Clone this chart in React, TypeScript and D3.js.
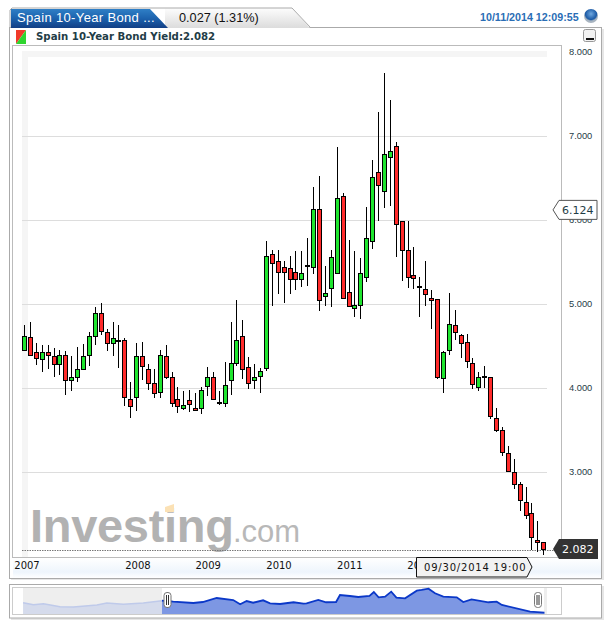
import React, { useEffect, useRef } from "react";
import * as d3 from "d3";

// Monthly candles (percent yield)
const opens = [4.45,4.61,4.43,4.35,4.43,4.39,4.29,4.40,4.10,4.14,4.23,4.39,4.63,4.90,4.67,4.54,4.58,4.58,3.87,3.89,4.38,4.23,4.06,3.96,4.39,4.14,3.87,3.76,3.86,3.77,3.76,4.02,4.13,3.835,3.82,4.10,4.30,4.62,4.25,4.10,4.15,4.25,5.60,5.51,5.45,5.43,5.38,5.30,5.465,5.45,6.14,5.10,5.19,5.38,6.29,5.15,4.96,4.99,5.33,5.76,6.57,6.35,6.76,6.89,5.99,5.65,5.35,5.22,5.18,5.08,5.06,4.12,4.45,4.75,4.63,4.55,4.30,4.01,4.145,4.14,3.65,3.50,3.23,3.00,2.86,2.65,2.52,2.19,2.17];
const highs = [4.75,4.79,4.54,4.51,4.52,4.48,4.46,4.44,4.38,4.49,4.53,4.67,4.97,5.01,4.71,4.79,4.75,4.60,4.08,4.54,4.55,4.29,4.23,4.46,4.52,4.20,4.01,3.97,3.98,3.94,4.01,4.25,4.19,3.97,4.31,4.79,5.05,4.81,4.37,4.29,4.24,5.75,5.65,5.65,5.52,5.58,5.63,5.63,5.79,6.40,6.53,5.46,5.65,6.87,6.32,5.77,5.63,5.55,6.16,6.72,7.29,7.75,7.43,6.93,5.99,5.99,5.68,5.32,5.52,5.17,5.06,4.45,5.14,4.93,4.65,4.65,4.36,4.20,4.27,4.14,3.76,3.54,3.31,3.16,2.88,2.83,2.64,2.42,2.17];
const lows = [4.44,4.38,4.28,4.20,4.23,4.13,4.16,3.92,3.97,4.08,4.22,4.26,4.52,4.64,4.44,4.39,4.24,3.79,3.65,3.73,4.10,3.98,3.88,3.88,4.11,3.78,3.71,3.74,3.72,3.73,3.69,3.91,3.86,3.80,3.78,3.92,4.27,4.11,3.99,3.99,3.95,4.21,4.98,5.12,5.01,5.12,5.17,5.21,5.22,5.36,4.92,4.98,4.97,5.38,5.07,4.97,4.85,4.83,5.27,5.66,5.99,6.15,6.17,5.56,5.28,5.20,5.18,4.85,4.98,4.71,4.11,3.94,4.40,4.58,4.36,4.24,3.99,3.97,4.00,3.64,3.48,3.20,3.02,2.80,2.54,2.45,2.08,2.05,2.02];
const closes = [4.62,4.40,4.36,4.43,4.40,4.29,4.40,4.10,4.14,4.23,4.39,4.62,4.90,4.68,4.54,4.60,4.57,3.90,3.79,4.38,4.26,4.06,3.94,4.40,4.14,3.83,3.79,3.80,3.81,3.75,3.98,4.13,3.87,3.825,4.04,4.30,4.57,4.23,4.06,4.14,4.21,5.58,5.49,5.38,5.39,5.30,5.30,5.37,5.455,6.14,5.06,5.14,5.56,6.27,5.08,4.98,4.99,5.37,5.79,6.52,6.42,6.79,6.83,5.96,5.64,5.33,5.32,5.22,5.12,5.06,4.13,4.43,4.76,4.67,4.54,4.32,4.05,4.13,4.135,3.68,3.51,3.24,3.02,2.86,2.67,2.50,2.23,2.17,2.082];

const yTicks = [3, 4, 5, 6, 7, 8];
const gridTicks = [3, 4, 5, 6, 7];

// Year labels and the candle position each one starts at
const yearLabels = ["2007", "2008", "2009", "2010", "2011", "2012"];
const yearPositions = [-1.9, 16.9, 28.8, 40.8, 52.8, 64.7];

// Overview strip: months relative to the first visible candle, and yields
const navMonths = [-32,-29.6,-27.3,-23.5,-20.4,-15,-12.7,-8.9,-4.3,0,2.6,7.2,9.4,12.6,16.4,18,19.5,21,23.3,24.9,27.2,30.3,32.6,33.3,36,37.8,40.1,41,43.3,45.2,47.8,48.8,49.9,51.4,52.8,54,56,58.7,59.8,61.4,62.9,64.8,67.9,69.4,71.3,75.2,77.1,78.3,84.8,88.1];
const navValues = [4.29,3.83,4.06,3.38,3.31,3.77,4.22,3.93,4.22,4.75,4.52,4.22,4.45,5.37,4.91,3.93,4.68,4.29,4.84,4.16,4.0,4.39,4.06,4.16,4.91,4.39,4.45,6.06,5.83,5.6,5.83,6.75,5.53,5.67,6.82,5.44,5.3,7.05,7.21,7.5,6.45,5.67,5.53,4.45,5.07,4.39,4.52,3.77,2.23,2.0];

const lastValue = 2.082;
const crossValue = 6.124;

const UI_FONT = "'DejaVu Sans', sans-serif";
const ARIAL = "'Liberation Sans', Arial, sans-serif";
const TEAL = "#1f3d47";

const App: React.FC = () => {
  const svgRef = useRef<SVGSVGElement>(null);

  useEffect(() => {
    const svg = d3.select(svgRef.current);
    svg.selectAll("*").remove();

    const x = d3.scaleLinear().domain([0, 88]).range([25, 544.3]);
    const y = d3.scaleLinear().domain([4, 8]).range([388.3, 52.3]);
    const navX = d3.scaleLinear().domain([0, 88]).range([162, 544]);
    const navY = d3.scaleLinear().domain([2, 7.5]).range([612.7, 588.7]);

    const defs = svg.append("defs");
    const grad = (id: string, stops: [number, string][]) => {
      const g = defs.append("linearGradient").attr("id", id)
        .attr("x1", 0).attr("y1", 0).attr("x2", 0).attr("y2", 1);
      stops.forEach(([o, c]) => g.append("stop").attr("offset", o).attr("stop-color", c));
    };
    grad("tabBlue", [[0, "#2f7fc6"], [0.5, "#1c62ad"], [1, "#123f85"]]);
    grad("tabGray", [[0, "#fdfdfd"], [1, "#dcdcdc"]]);
    grad("axisStrip", [[0, "#ffffff"], [0.7, "#eef5fc"], [1, "#ffffff"]]);
    const ball = defs.append("radialGradient").attr("id", "ball").attr("cy", 0.35);
    ball.append("stop").attr("offset", 0).attr("stop-color", "#6fa8e0");
    ball.append("stop").attr("offset", 0.8).attr("stop-color", "#1c5aa5");
    ball.append("stop").attr("offset", 1).attr("stop-color", "#a8b4c0");

    // Panels
    svg.append("rect").attr("x", 11).attr("y", 29).attr("width", 593).attr("height", 551).attr("fill", "#e6e6e6");
    svg.append("rect").attr("x", 9.5).attr("y", 27.5).attr("width", 592).attr("height", 551)
      .attr("fill", "#fff").attr("stroke", "#aaa");
    svg.append("rect").attr("x", 11).attr("y", 586).attr("width", 593).attr("height", 34).attr("fill", "#e6e6e6");
    svg.append("rect").attr("x", 9.5).attr("y", 584.5).attr("width", 592).attr("height", 33.5)
      .attr("fill", "#fff").attr("stroke", "#aaa");

    // Header tabs
    svg.append("path").attr("d", "M165,28 L165,8 L292,8 L310,28 Z").attr("fill", "url(#tabGray)");
    svg.append("path").attr("d", "M10,28 L10,10 L12,8 L292,8 L310,27").attr("fill", "none").attr("stroke", "#aaa");
    svg.append("path").attr("d", "M11,28 L11,9 L150,9 L168,28 Z").attr("fill", "url(#tabBlue)");
    svg.append("text").attr("x", 17).attr("y", 22).attr("fill", "#fff")
      .attr("font-family", ARIAL).attr("font-size", 13).attr("letter-spacing", 0.35).text("Spain 10-Year Bond ...");
    svg.append("text").attr("x", 179).attr("y", 22).attr("fill", "#111")
      .attr("font-family", ARIAL).attr("font-size", 12.7).text("0.027 (1.31%)");
    svg.append("text").attr("x", 480).attr("y", 21).attr("fill", "#2a6db5")
      .attr("font-family", ARIAL).attr("font-size", 10.7).attr("font-weight", "bold").text("10/11/2014 12:09:55");
    svg.append("circle").attr("cx", 591).attr("cy", 16).attr("r", 7).attr("fill", "url(#ball)");

    // Legend row
    svg.append("path").attr("d", "M16,30 H26 L16,44 Z").attr("fill", "#f03a2a");
    svg.append("path").attr("d", "M26,30 V44 H16 Z").attr("fill", "#2fd52f");
    svg.append("text").attr("x", 36).attr("y", 40).attr("fill", TEAL)
      .attr("font-family", UI_FONT).attr("font-size", 10.2).attr("font-weight", "bold")
      .text("Spain 10-Year Bond Yield:2.082");

    // Minimise button
    svg.append("rect").attr("x", 583.5).attr("y", 29.5).attr("width", 12).attr("height", 12).attr("rx", 2)
      .attr("fill", "#f2f2f2").attr("stroke", "#999");
    svg.append("rect").attr("x", 586).attr("y", 38).attr("width", 8).attr("height", 2).attr("fill", "#111");

    // Plot frame and its faint inner band
    svg.append("rect").attr("x", 12.5).attr("y", 45.5).attr("width", 549).attr("height", 512)
      .attr("fill", "#fff").attr("stroke", "#bbb");
    svg.append("rect").attr("x", 22).attr("y", 51).attr("width", 525).attr("height", 6).attr("fill", "#f5f5f5");
    svg.append("rect").attr("x", 22).attr("y", 51).attr("width", 6).attr("height", 506).attr("fill", "#f5f5f5");

    // Grid lines
    svg.append("g").selectAll("line").data(gridTicks).enter().append("line")
      .attr("x1", 22).attr("x2", 547)
      .attr("y1", (d) => Math.round(y(d)) + 0.5).attr("y2", (d) => Math.round(y(d)) + 0.5)
      .attr("stroke", "#ddd");

    // Watermark
    svg.append("text").attr("x", 30).attr("y", 542).attr("fill", "#b2b2b2")
      .attr("font-family", ARIAL).attr("font-weight", "bold").attr("font-size", 47).attr("letter-spacing", -0.3)
      .text("Investing");
    svg.append("path").attr("d", "M165,507 L174,504 V512 H165 Z").attr("fill", "#fbe1b5");
    svg.append("text").attr("x", 233).attr("y", 542).attr("fill", "#b8b8b8")
      .attr("font-family", ARIAL).attr("font-size", 31).text(".com");

    // Last value dotted line
    svg.append("line").attr("x1", 22).attr("x2", 555).attr("y1", 550.5).attr("y2", 550.5)
      .attr("stroke", "#777").attr("stroke-dasharray", "1.5 1");

    // Candles
    const candles = d3.range(closes.length);
    const g = svg.append("g").attr("shape-rendering", "crispEdges");
    g.selectAll(".wick").data(candles).enter().append("line").attr("class", "wick")
      .attr("x1", (i) => Math.round(x(i)) - 0.5).attr("x2", (i) => Math.round(x(i)) - 0.5)
      .attr("y1", (i) => y(highs[i])).attr("y2", (i) => y(lows[i]))
      .attr("stroke", "#000");
    g.selectAll(".body").data(candles).enter().append("rect").attr("class", "body")
      .attr("x", (i) => Math.round(x(i)) - 2.5)
      .attr("width", 4)
      .attr("y", (i) => Math.round(y(Math.max(opens[i], closes[i]))) + 0.5)
      .attr("height", (i) => Math.max(1, Math.round(Math.abs(y(opens[i]) - y(closes[i])))))
      .attr("fill", (i) => (closes[i] >= opens[i] ? "#1fe52f" : "#ff2b2b"))
      .attr("stroke", "#000");

    // Value axis
    const yAxis = svg.append("g").attr("transform", "translate(566,-1)")
      .call(d3.axisRight(y).tickValues(yTicks).tickSize(0).tickFormat(d3.format(".3f")) as any);
    yAxis.select(".domain").remove();
    yAxis.selectAll("text").attr("x", 3).attr("fill", TEAL)
      .attr("font-family", ARIAL).attr("font-size", 9.3);

    // Year axis
    const xAxis = svg.append("g").attr("transform", "translate(0,558)")
      .call(d3.axisBottom(x).tickValues(yearPositions).tickSize(0)
        .tickFormat((_, i) => yearLabels[i]) as any);
    xAxis.select(".domain").remove();
    xAxis.insert("rect", ":first-child").attr("x", 13).attr("y", 0).attr("width", 588).attr("height", 20)
      .attr("fill", "url(#axisStrip)");
    xAxis.selectAll("text").attr("text-anchor", "start").attr("y", 4).attr("fill", "#111")
      .attr("font-family", UI_FONT).attr("font-size", 10);

    // Date flag on the axis
    svg.append("path").attr("d", "M416.5,557.5 H527 L532,567 L527,577 H416.5 Z")
      .attr("fill", "#f2f2f2").attr("stroke", "#111");
    svg.append("text").attr("x", 424).attr("y", 570.5).attr("fill", "#111")
      .attr("font-family", UI_FONT).attr("font-size", 10).attr("letter-spacing", 0.8)
      .text("09/30/2014 19:00");

    // Crosshair value flag
    const crossY = y(crossValue);
    svg.append("path")
      .attr("d", `M553,${crossY} L559,${crossY - 9.5} H597 V${crossY + 9.5} H559 Z`)
      .attr("fill", "#fff").attr("stroke", "#555");
    svg.append("text").attr("x", 562).attr("y", crossY + 4).attr("fill", TEAL)
      .attr("font-family", UI_FONT).attr("font-size", 11).text(d3.format(".3f")(crossValue));

    // Last value flag
    const lastY = y(lastValue) - 0.5;
    svg.append("path")
      .attr("d", `M553,${lastY} L559,${lastY - 10} H598 V${lastY + 10} H559 Z`)
      .attr("fill", "#333");
    svg.append("text").attr("x", 562).attr("y", lastY + 4).attr("fill", "#fff")
      .attr("font-family", UI_FONT).attr("font-size", 11).text(d3.format(".3f")(lastValue));

    // Overview strip
    svg.append("rect").attr("x", 12.5).attr("y", 587.5).attr("width", 549).attr("height", 27)
      .attr("fill", "#fff").attr("stroke", "#ccc");
    svg.append("rect").attr("x", 23).attr("y", 588).attr("width", 139).attr("height", 26).attr("fill", "#eee");
    svg.append("rect").attr("x", 544).attr("y", 588).attr("width", 3).attr("height", 26).attr("fill", "#eee");

    const split = navMonths.indexOf(0);
    const navPoints = navMonths.map((m, i) => [m, navValues[i]] as [number, number]);
    const hidden = navPoints.slice(0, split + 1);
    const shown = navPoints.slice(split);
    const navArea = d3.area<[number, number]>().x((d) => navX(d[0])).y0(614).y1((d) => navY(d[1]));
    const navLine = d3.line<[number, number]>().x((d) => navX(d[0])).y((d) => navY(d[1]));
    svg.append("path").attr("d", navArea(hidden)).attr("fill", "#d5dbec");
    svg.append("path").attr("d", navLine(hidden)).attr("fill", "none").attr("stroke", "#bfcaea").attr("stroke-width", 1.6);
    svg.append("path").attr("d", navArea(shown)).attr("fill", "#7d97e3");
    svg.append("path").attr("d", navLine(shown)).attr("fill", "none").attr("stroke", "#0b38c8").attr("stroke-width", 1.8);

    // Overview handles
    [167.5, 538].forEach((hx) => {
      svg.append("rect").attr("x", hx - 3.5).attr("y", 592.5).attr("width", 7).attr("height", 15).attr("rx", 3)
        .attr("fill", "#fff").attr("stroke", "#777");
      svg.append("line").attr("x1", hx - 1).attr("x2", hx - 1).attr("y1", 595).attr("y2", 605).attr("stroke", "#333");
      svg.append("line").attr("x1", hx + 1).attr("x2", hx + 1).attr("y1", 595).attr("y2", 605).attr("stroke", "#333");
    });
  }, []);

  return (
    <svg
      ref={svgRef}
      width={613}
      height={627}
      style={{ position: "absolute", left: 0, top: 0, display: "block" }}
    />
  );
};

export default App;
